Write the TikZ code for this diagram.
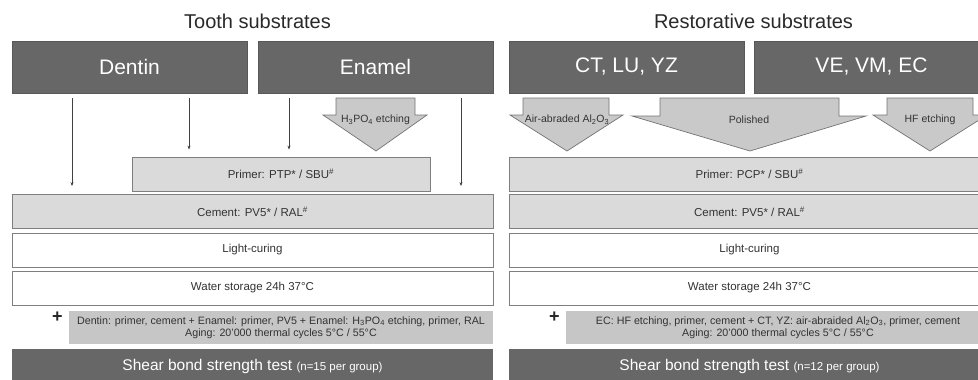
\documentclass[tikz,border=0pt]{standalone}
\usepackage{fontspec}
\setmainfont{Liberation Sans}
\usetikzlibrary{arrows.meta}

\definecolor{darkbox}{HTML}{676767}
\definecolor{lightbox}{HTML}{DADADA}
\definecolor{notebox}{HTML}{C6C6C6}
\definecolor{etchfill}{HTML}{C9C9C9}
\definecolor{edgegray}{HTML}{7F7F7F}
\definecolor{inkgray}{HTML}{333333}

\tikzset{
  title/.style={text=inkgray!80!black, font=\fontsize{20}{24}\selectfont, inner sep=0pt},
  substrate/.style={draw=darkbox!85!black, line width=0.8pt, fill=darkbox, text=white,
    font=\fontsize{21}{24}\selectfont, minimum width=235pt, minimum height=52pt, inner sep=0pt},
  layer/.style={draw=edgegray, line width=0.8pt, fill=lightbox, text=inkgray,
    font=\fontsize{11.5}{14}\selectfont, minimum width=481pt, minimum height=34pt, inner sep=0pt},
  plainlayer/.style={layer, fill=white},
  note/.style={fill=notebox, text=inkgray, font=\fontsize{10.7}{12.5}\selectfont,
    align=center, minimum width=424pt, minimum height=33pt, inner sep=0pt},
  shear/.style={fill=darkbox, text=white, font=\fontsize{15.5}{18}\selectfont,
    minimum width=481pt, minimum height=34pt, inner sep=0pt},
  plus/.style={text=black!85, font=\bfseries\fontsize{18}{20}\selectfont, inner sep=0pt},
  feed/.style={-{Stealth[length=4pt,width=3pt]}, draw=black!75, line width=0.8pt},
  etch/.style={draw=black!55, line width=0.7pt, fill=etchfill},
  etchlabel/.style={text=inkgray, font=\fontsize{10.5}{12}\selectfont, inner sep=0pt}
}

\begin{document}
\begin{tikzpicture}[x=1pt,y=-1pt]
  \useasboundingbox (0,0) rectangle (978,380);
  \clip (0,0) rectangle (978,380);

  % Titles
  \node[title] (tooth) at (257.5,21.5) {Tooth substrates};
  \node[title] (resto) at (753.5,21.5) {Restorative substrates};

  % Substrate groups
  \node[substrate] (dentin) at (129.5,67) {Dentin};
  \node[substrate] (enamel) at (375.5,67) {Enamel};
  \node[substrate] (ctluyz) at (626.5,67) {CT, LU, YZ};
  \node[substrate] (vevmec) at (871.5,67) {VE, VM, EC};

  % Primers
  \node[layer, minimum width=298pt] (primer-l) at (281,174) {Primer: PTP* / SBU\textsuperscript{\#}};
  \node[layer] (primer-r) at (749.5,174) {Primer: PCP* / SBU\textsuperscript{\#}};

  % Shared steps of both panels
  \foreach \p/\cx in {l/252.5, r/749.5}{
    \node[layer] (cement-\p) at (\cx,211.5) {Cement: PV5* / RAL\textsuperscript{\#}};
    \node[plainlayer] (light-\p) at (\cx,250) {Light-curing};
    \node[plainlayer] (water-\p) at (\cx,288) {Water storage 24h 37°C};
  }

  % Aging
  \node[plus] (plus-l) at (57.5,317) {+};
  \node[note] (aging-l) at (281,327.5) {Dentin: primer, cement + Enamel: primer, PV5 + Enamel: H\textsubscript{3}PO\textsubscript{4} etching, primer, RAL\\Aging: 20’000 thermal cycles 5°C / 55°C};
  \node[plus] (plus-r) at (554.5,317) {+};
  \node[note] (aging-r) at (778,327.5) {EC: HF etching, primer, cement + CT, YZ: air-abraided Al\textsubscript{2}O\textsubscript{3}, primer, cement\\Aging: 20’000 thermal cycles 5°C / 55°C};

  % Test
  \node[shear] (test-l) at (252.5,366) {Shear bond strength test {\fontsize{11.5}{14}\selectfont(n=15 per group)}};
  \node[shear] (test-r) at (749.5,366) {Shear bond strength test {\fontsize{11.5}{14}\selectfont(n=12 per group)}};

  % Tooth arrows
  \draw[feed, shorten <=5pt, shorten >=8pt] ([xshift=-57.5pt]dentin.south) -- ([xshift=-57.5pt]dentin.south |- cement-l.north);
  \draw[feed, shorten <=5pt, shorten >=7pt] ([xshift=59.5pt]dentin.south) -- ([xshift=59.5pt]dentin.south |- primer-l.north);
  \draw[feed, shorten <=5pt, shorten >=7pt] ([xshift=-86.5pt]enamel.south) -- ([xshift=-86.5pt]enamel.south |- primer-l.north);
  \draw[feed, shorten <=5pt, shorten >=8pt] ([xshift=85.5pt]enamel.south) -- ([xshift=85.5pt]enamel.south |- cement-l.north);

  % Surface treatments
  \draw[etch] (336,98) -- (415,98) -- (415,115) -- (427,115) -- (376,151) -- (323,115) -- (336,115) -- cycle;
  \node[etchlabel] (phos) at (375.5,120) {H\textsubscript{3}PO\textsubscript{4} etching};

  \draw[etch] (523,98) -- (609,98) -- (609,115) -- (623,115) -- (567,151) -- (510,115) -- (523,115) -- cycle;
  \draw[etch] (660,98) -- (839,98) -- (839,116) -- (866,116) -- (750,151) -- (632,116) -- (660,116) -- cycle;
  \draw[etch] (887,98) -- (973,98) -- (973,115) -- (987,115) -- (930,151) -- (873,115) -- (887,115) -- cycle;
  \node[etchlabel] (abraded) at (567,120) {Air-abraded Al\textsubscript{2}O\textsubscript{3}};
  \node[etchlabel] (polished) at (749,120) {Polished};
  \node[etchlabel] (hf) at (930,120) {HF etching};
\end{tikzpicture}
\end{document}
